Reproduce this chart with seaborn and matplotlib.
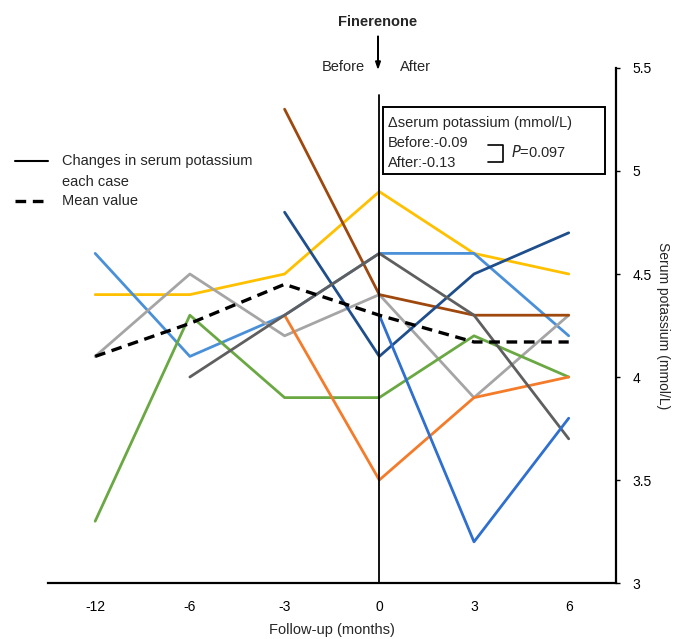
import numpy as np
import pandas as pd
import matplotlib
matplotlib.use("Agg")
import matplotlib.pyplot as plt
import seaborn as sns

months = ["-12", "-6", "-3", "0", "3", "6"]
nan = np.nan
yellow = [4.4, 4.4, 4.5, 4.9, 4.6, 4.5]
light_blue = [4.6, 4.1, 4.3, 4.6, 4.6, 4.2]
dark_gray = [nan, 4.0, 4.3, 4.6, 4.3, 3.7]
light_gray = [4.1, 4.5, 4.2, 4.4, 3.9, 4.3]
brown = [nan, nan, 5.3, 4.4, 4.3, 4.3]
navy = [nan, nan, 4.8, 4.1, 4.5, 4.7]
green = [3.3, 4.3, 3.9, 3.9, 4.2, 4.0]
orange = [nan, nan, 4.3, 3.5, 3.9, 4.0]
blue = [nan, nan, nan, 4.3, 3.2, 3.8]
mean_value = [4.1, 4.26, 4.45, 4.3, 4.17, 4.17]

series = {
    "yellow": (yellow, "#FFC000"),
    "light_blue": (light_blue, "#4A90D9"),
    "light_gray": (light_gray, "#A5A5A5"),
    "green": (green, "#6AA843"),
    "orange": (orange, "#F47B2A"),
    "brown": (brown, "#9E480E"),
    "navy": (navy, "#1F4E8C"),
    "dark_gray": (dark_gray, "#5F5F5F"),
    "blue": (blue, "#2E6FD0"),
}

sns.set_theme(style="white")
plt.rcParams["font.family"] = ["Liberation Sans", "DejaVu Sans"]

fig = plt.figure(figsize=(6.83, 6.39), dpi=100)
ax = fig.add_axes([0.070, 0.0876, 0.832, 0.806])

pos = np.arange(len(months))
rows = []
for name, (vals, col) in series.items():
    for p, v in zip(pos, vals):
        rows.append({"case": name, "x": p, "y": v})
df = pd.DataFrame(rows).dropna()
palette = {k: c for k, (v, c) in series.items()}
sns.lineplot(data=df, x="x", y="y", hue="case", palette=palette, ax=ax,
             legend=False, linewidth=2.0, sort=False)

mdf = pd.DataFrame({"x": pos, "y": mean_value})
sns.lineplot(data=mdf, x="x", y="y", ax=ax, color="black", linewidth=2.4,
             linestyle=(0, (3.2, 2.0)), legend=False)

# vertical line at 0
ax.plot([3, 3], [3, 5.37], color="black", linewidth=1.3, zorder=5)

ax.set_xlim(-0.5, 5.5)
ax.set_ylim(3, 5.5)
ax.set_xticks(pos)
ax.set_xticklabels(months)
ax.yaxis.tick_right()
ax.yaxis.set_label_position("right")
ax.set_yticks([3, 3.5, 4, 4.5, 5, 5.5])
ax.set_yticklabels(["3", "3.5", "4", "4.5", "5", "5.5"])
for s in ["top", "left"]:
    ax.spines[s].set_visible(False)
for s in ["bottom", "right"]:
    ax.spines[s].set_visible(True)
    ax.spines[s].set_color("black")
    ax.spines[s].set_linewidth(1.6)
ax.tick_params(axis="both", which="both", direction="out", length=3, width=1,
               colors="black", labelsize=10)
ax.tick_params(axis="y", pad=9)
ax.tick_params(axis="x", pad=9)
ax.set_xlabel("Follow-up (months)", fontsize=10.5, labelpad=7)
ax.set_ylabel("Serum potassium (mmol/L)", fontsize=10, rotation=-90, labelpad=13)
ax.grid(False)

# legend (manual, in figure coordinates)
fig.lines.append(plt.Line2D([15/683, 48/683], [1-161/639, 1-161/639], color="black",
                            linewidth=1.5, transform=fig.transFigure))
fig.lines.append(plt.Line2D([15/683, 48/683], [1-201/639, 1-201/639], color="black",
                            linewidth=2.4, linestyle=(0, (3.2, 2.0)), transform=fig.transFigure))
fig.text(62/683, 1-161/639, "Changes in serum potassium", fontsize=10.5, va="center")
fig.text(62/683, 1-182/639, "each case", fontsize=10.5, va="center")
fig.text(62/683, 1-201/639, "Mean value", fontsize=10.5, va="center")

# top annotations
fig.text(378/683, 1-22/639, "Finerenone", fontsize=10.5, fontweight="bold", ha="center", va="center")
fig.patches.append(matplotlib.patches.FancyArrow(378/683, 1-36/639, 0, -(32/639), width=0.0004,
                                                  head_width=0.007, head_length=0.011,
                                                  length_includes_head=True, color="black",
                                                  transform=fig.transFigure))
fig.text(365/683, 1-67/639, "Before", fontsize=10.5, ha="right", va="center")
fig.text(400/683, 1-67/639, "After", fontsize=10.5, ha="left", va="center")

# text box
fig.patches.append(matplotlib.patches.Rectangle((383/683, 1-174/639), 222/683, 67/639,
                                                 fill=False, edgecolor="black", linewidth=1.4,
                                                 transform=fig.transFigure, zorder=10))
fig.text(388/683, 1-123/639, "\u0394serum potassium (mmol/L)", fontsize=10.5, va="center")
fig.text(388/683, 1-143/639, "Before:-0.09", fontsize=10.5, va="center")
fig.text(388/683, 1-163/639, "After:-0.13", fontsize=10.5, va="center")
fig.lines.append(plt.Line2D([488/683, 503/683, 503/683, 488/683],
                            [1-145/639, 1-145/639, 1-162/639, 1-162/639],
                            color="black", linewidth=1.2, transform=fig.transFigure))
fig.text(511/683, 1-152/639, "$\\it{P}$=0.097", fontsize=10.5, va="center")

fig.savefig("out.png", dpi=100)
